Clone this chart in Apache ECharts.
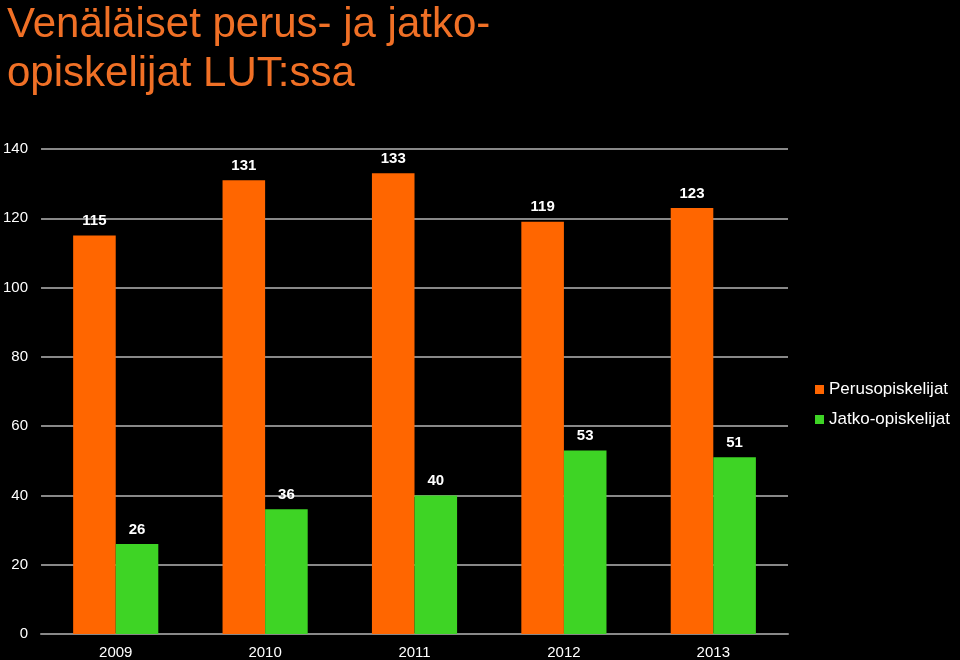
<!DOCTYPE html>
<html><head><meta charset="utf-8">
<script src="https://cdn.jsdelivr.net/npm/echarts@6/dist/echarts.min.js"></script>
<style>html,body{margin:0;padding:0;background:#000}#c{width:960px;height:660px}</style>
</head><body><div id="c"></div>
<script>
const categories = ['2009','2010','2011','2012','2013'];
const perus = [115,131,133,119,123];
const jatko = [26,36,40,53,51];
const seriesNames = ['Perusopiskelijat','Jatko-opiskelijat'];
const yTicks = {min:0,max:140,interval:20};

const chart = echarts.init(document.getElementById('c'));
const lbl = {show:true,position:'top',distance:7,color:'#fff',fontWeight:'bold',fontSize:15,fontFamily:'Liberation Sans, Arial'};
chart.setOption({
  backgroundColor:'#000',
  animation:false,
  title:{text:'Venäläiset perus- ja jatko-\nopiskelijat LUT:ssa',left:2,top:-4,
    textStyle:{color:'#F07026',fontSize:42,fontWeight:'normal',fontFamily:'Liberation Sans, Arial',lineHeight:49}},
  legend:{orient:'vertical',left:810,top:376,itemWidth:9,itemHeight:9,itemGap:13,icon:'rect',
    textStyle:{color:'#fff',fontSize:17,fontFamily:'Liberation Sans, Arial'},data:seriesNames},
  grid:{left:40,right:172,top:149,bottom:25,containLabel:false},
  xAxis:{type:'category',data:categories,
    axisLine:{lineStyle:{color:'#888',width:2}},axisTick:{show:false},
    axisLabel:{color:'#fff',fontSize:15,margin:11,fontFamily:'Liberation Sans, Arial'}},
  yAxis:{type:'value',min:yTicks.min,max:yTicks.max,interval:yTicks.interval,
    axisLine:{show:false},axisTick:{show:false},
    splitLine:{lineStyle:{color:'#888',width:2}},
    axisLabel:{color:'#fff',fontSize:15,margin:13,fontFamily:'Liberation Sans, Arial'}},
  series:[
    {name:seriesNames[0],type:'bar',data:perus,barGap:'0%',barCategoryGap:'43%',itemStyle:{color:'#FF6600'},label:lbl},
    {name:seriesNames[1],type:'bar',data:jatko,itemStyle:{color:'#3ED425'},label:lbl}
  ]
});
</script></body></html>
